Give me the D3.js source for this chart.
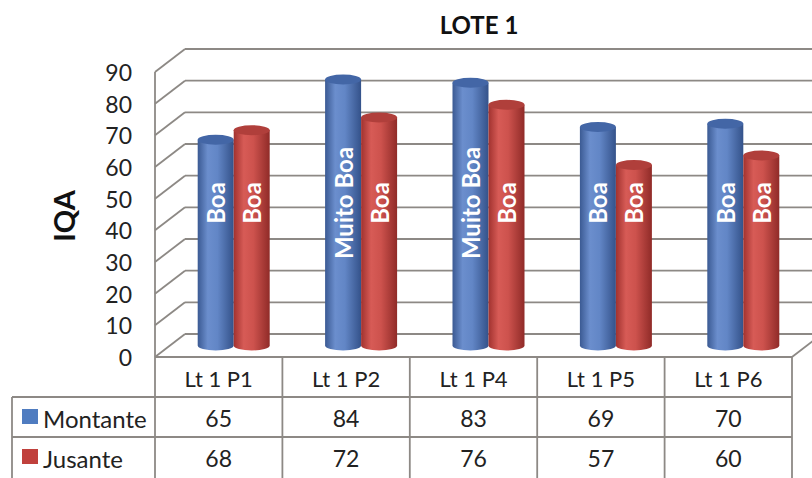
<!DOCTYPE html>
<html><head><meta charset="utf-8">
<script src="https://cdn.jsdelivr.net/npm/d3@7"></script>
<style>
html,body{margin:0;padding:0;background:#fff;}
svg{display:block;font-family:Lato,"Open Sans",sans-serif;}
</style></head>
<body><svg id="chart" width="812" height="478"></svg>
<script>
const title = "LOTE 1";
const yTitle = "IQA";
const categories = ["Lt 1 P1","Lt 1 P2","Lt 1 P4","Lt 1 P5","Lt 1 P6"];
const seriesNames = ["Montante","Jusante"];
const montante = [65,84,83,69,70];
const jusante = [68,72,76,57,60];
const montanteClass = ["Boa","Muito Boa","Muito Boa","Boa","Boa"];
const jusanteClass = ["Boa","Boa","Boa","Boa","Boa"];
const yTicks = [0,10,20,30,40,50,60,70,80,90];

const svg = d3.select("#chart");
const defs = svg.append("defs");

const left = 155, right = 792;
const dx = 30, dy = -23;
const x = d3.scaleBand().domain(categories).range([left, right]);
const y = d3.scaleLinear().domain([0, 90]).range([357, 72]);
const grid = "#8d8985";

function grad(id, stops){
  const g = defs.append("linearGradient").attr("id", id).attr("x1","0%").attr("x2","100%").attr("y1","0%").attr("y2","0%");
  stops.forEach(([o,c]) => g.append("stop").attr("offset", o).attr("stop-color", c));
}
grad("gBlue", [["0%","#3b5a93"],["28%","#6b8ecd"],["55%","#6286c6"],["100%","#34528a"]]);
grad("gRed", [["0%","#a1322f"],["28%","#d75b56"],["55%","#cd524d"],["100%","#902b28"]]);

// back wall gridlines
const g = svg.append("g");
g.selectAll("line.back").data(yTicks).join("line")
  .attr("x1", left + dx).attr("x2", 812)
  .attr("y1", d => y(d) + dy).attr("y2", d => y(d) + dy)
  .attr("stroke", grid).attr("stroke-width", 1.8);
// side wall diagonals
g.selectAll("line.side").data(yTicks).join("line")
  .attr("x1", left).attr("x2", left + dx)
  .attr("y1", d => y(d)).attr("y2", d => y(d) + dy)
  .attr("stroke", grid).attr("stroke-width", 1.8);
// front vertical axis line
g.append("line").attr("x1", left).attr("x2", left).attr("y1", y(90)).attr("y2", y(0))
  .attr("stroke", grid).attr("stroke-width", 1.8);
// floor right diagonal
g.append("line").attr("x1", right).attr("x2", right + dx).attr("y1", y(0)).attr("y2", y(0) + dy)
  .attr("stroke", grid).attr("stroke-width", 1.8);

// tick labels
svg.append("g").selectAll("text").data(yTicks).join("text")
  .attr("x", 132).attr("y", d => y(d)).attr("text-anchor", "end")
  .attr("dominant-baseline", "central")
  .attr("font-size", 23).attr("fill", "#222").text(d => d);

// y title
svg.append("text").attr("transform", "translate(63,216) rotate(-90)")
  .attr("text-anchor", "middle").attr("dominant-baseline", "central")
  .attr("font-size", 29).attr("font-weight", "bold").attr("fill", "#111").text(yTitle);

// title
svg.append("text").attr("x", 479).attr("y", 24).attr("text-anchor", "middle")
  .attr("dominant-baseline", "central")
  .attr("font-size", 24).attr("font-weight", "bold").attr("fill", "#111").text(title);

// bars (cylinders) at mid depth
const barW = 36, ry = 5;
const yMid = v => y(v) + dy / 2;
const series = [
  {name: seriesNames[0], values: montante, cls: montanteClass, fill: "url(#gBlue)", top: "#4366a6", off: -barW/2},
  {name: seriesNames[1], values: jusante, cls: jusanteClass, fill: "url(#gRed)", top: "#b03f3b", off: barW/2}
];
const bars = svg.append("g");
series.forEach(s => {
  const gs = bars.append("g");
  const cx = (c) => x(c) + x.bandwidth()/2 + dx/2 + s.off;
  categories.forEach((c, i) => {
    const v = s.values[i];
    const xc = cx(c), yt = yMid(v), yb = yMid(0);
    gs.append("path")
      .attr("d", `M${xc-barW/2},${yt} L${xc-barW/2},${yb} A${barW/2},${ry} 0 0 0 ${xc+barW/2},${yb} L${xc+barW/2},${yt} Z`)
      .attr("fill", s.fill);
    gs.append("ellipse").attr("cx", xc).attr("cy", yt).attr("rx", barW/2).attr("ry", ry)
      .attr("fill", s.top);
    gs.append("text")
      .attr("transform", `translate(${xc},${yMid(45)}) rotate(-90)`)
      .attr("text-anchor", "middle").attr("dominant-baseline", "central")
      .attr("font-size", 24).attr("font-weight", "bold").attr("fill", "#fff")
      .text(s.cls[i]);
  });
});

// data table
const tb = svg.append("g");
const rowY = [357, 397, 437];
const rowH = 40;
const legendLeft = 12;
tb.append("line").attr("x1", left).attr("x2", right).attr("y1", rowY[0]).attr("y2", rowY[0]).attr("stroke", grid).attr("stroke-width", 1.8);
[rowY[1], rowY[2]].forEach(yy => tb.append("line").attr("x1", legendLeft).attr("x2", right).attr("y1", yy).attr("y2", yy).attr("stroke", grid).attr("stroke-width", 1.8));
const colEdges = categories.map(c => x(c)).concat([right]);
colEdges.forEach(xx => tb.append("line").attr("x1", xx).attr("x2", xx).attr("y1", rowY[0]).attr("y2", 478).attr("stroke", grid).attr("stroke-width", 1.8));
tb.append("line").attr("x1", legendLeft).attr("x2", legendLeft).attr("y1", rowY[1]).attr("y2", 478).attr("stroke", grid).attr("stroke-width", 1.8);

tb.selectAll("text.head").data(categories).join("text")
  .attr("x", c => x(c) + x.bandwidth()/2).attr("y", rowY[0] + rowH/2 + 1)
  .attr("text-anchor", "middle").attr("dominant-baseline", "central")
  .attr("font-size", 22).attr("fill", "#222").text(c => c);

const legendColors = ["#4f7cc0", "#c0403c"];
series.forEach((s, si) => {
  const ry0 = rowY[si+1];
  tb.append("rect").attr("x", 22).attr("y", ry0 + 12).attr("width", 16).attr("height", 15).attr("fill", legendColors[si]);
  tb.append("text").attr("x", 43).attr("y", ry0 + rowH/2 + 1).attr("dominant-baseline", "central")
    .attr("font-size", 24).attr("fill", "#222").text(s.name);
  tb.selectAll(null).data(categories).join("text")
    .attr("x", c => x(c) + x.bandwidth()/2).attr("y", ry0 + rowH/2 + 1)
    .attr("text-anchor", "middle").attr("dominant-baseline", "central")
    .attr("font-size", 23).attr("fill", "#222").text((c, i) => s.values[i]);
});
</script></body></html>
